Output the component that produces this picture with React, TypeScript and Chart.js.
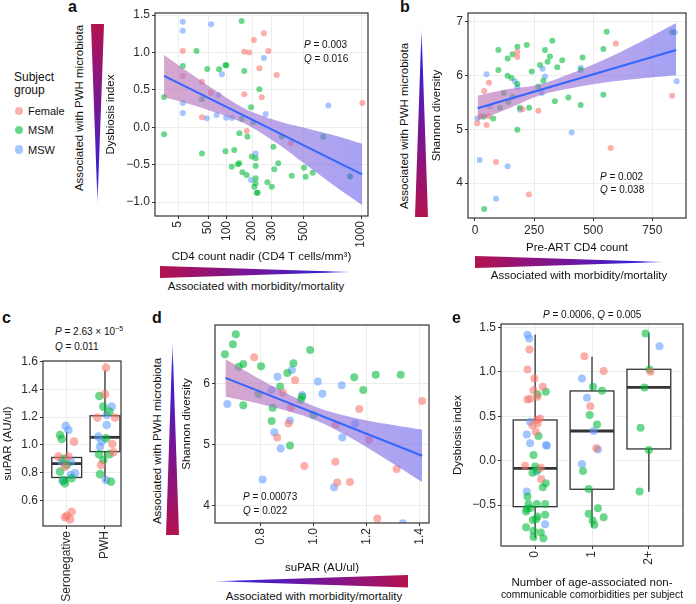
import React, { useEffect, useRef } from 'react';
import { Chart, registerables } from 'chart.js';

Chart.register(...registerables);

const FONT = '"Liberation Sans", Arial, Helvetica, sans-serif';
const COL_FEMALE = 'rgba(248,118,109,0.58)';
const COL_MSM = 'rgba(0,186,56,0.58)';
const COL_MSW = 'rgba(97,156,255,0.58)';
const FIT_COLOR = '#3366FF';
const GRID_COLOR = '#EBEBEB';
const TICK_COLOR = '#2b2b2b';

// ---------------- Panel a: CD4 nadir vs dysbiosis index ----------------
const A_X_TICKS = [5, 50, 100, 200, 300, 500, 1000];
const A_X_LABELS = ['5', '50', '100', '200', '300', '500', '1000'];
const A_Y_TICKS = [-1, -0.5, 0, 0.5, 1, 1.5];
const A_Y_LABELS = ['\u22121.0', '\u22120.5', '0.0', '0.5', '1.0', '1.5'];
const A_FEMALE_CD4 = [9, 9, 37, 57, 37, 257, 208, 166, 187, 280, 234, 327, 166, 246, 1013, 176, 415];
const A_FEMALE_DYS = [1.02, 0.685, 0.608, 0.461, 0.132, 1.255, 1.166, 1.01, 1.0, 1.02, 0.787, 0.698, 0.44, 0.4, 0.325, -0.05, -0.216];
const A_MSM_CD4 = [0, 0, 9, 27, 48, 37, 78, 97, 100, 37, 97, 118, 140, 127, 146, 155, 166, 234, 195, 155, 205, 179, 357, 654, 308, 146, 216, 336, 313, 420, 505, 517, 569, 158, 176, 216, 198, 216, 216, 275, 299, 210, 221, 226, 891];
const A_MSM_DYS = [0.405, -0.095, 0.82, 1.02, 0.778, 0.373, 0.775, 0.83, 0.83, -0.35, -0.32, -0.528, -0.496, -0.305, -0.082, 1.42, 0.75, 0.507, 0.266, 0.11, 0.065, -0.127, -0.127, -0.127, -0.26, -0.483, -0.519, -0.483, -0.563, -0.648, -0.541, -0.661, -0.608, -0.603, -0.639, -0.416, -0.39, -0.683, -0.75, -0.737, -0.795, -0.795, -0.876, -0.876, -0.66];
const A_MSW_CD4 = [9, 9, 57, 9, 9, 76, 47, 99, 71, 86, 257, 695, 266, 118, 216, 195, 891];
const A_MSW_DYS = [1.41, 1.29, 1.375, 0.325, 0.19, 0.43, 0.119, 0.125, 0.163, 0.707, 0.926, 0.29, 0.176, 0.124, -0.35, -0.706, -0.66];
const A_FIT_CD4 = [0, 1011];
const A_FIT_DYS = [0.685, -0.63];
const A_BAND_CD4 = [0, 16, 64, 169, 324, 529, 784, 1011];
const A_BAND_LO = [0.405, 0.31, 0.204, 0.047, -0.209, -0.516, -0.823, -1.04];
const A_BAND_HI = [0.965, 0.73, 0.504, 0.247, 0.091, -0.016, -0.123, -0.22];

// ---------------- Panel b: pre-ART CD4 vs Shannon ----------------
const B_X_TICKS = [0, 250, 500, 750];
const B_X_LABELS = ['0', '250', '500', '750'];
const B_Y_TICKS = [4, 5, 6, 7];
const B_Y_LABELS = ['4', '5', '6', '7'];
const B_FEMALE_CD4 = [10, 24, 49, 59, 39, 59, 179, 179, 201, 268, 596, 574, 834, 89, 228];
const B_FEMALE_SHAN = [5.11, 5.24, 5.08, 5.24, 5.71, 5.86, 6.43, 6.34, 5.37, 5.34, 6.59, 4.65, 5.62, 4.39, 3.79];
const B_MSM_CD4 = [37, 77, 99, 99, 138, 159, 179, 219, 327, 296, 307, 317, 275, 240, 138, 155, 179, 122, 141, 159, 106, 190, 229, 268, 289, 338, 348, 369, 395, 447, 447, 455, 543, 557, 543, 834, 39, 179];
const B_MSM_SHAN = [5.23, 5.2, 6.1, 6.47, 6.31, 6.39, 6.53, 6.56, 6.64, 6.47, 6.25, 6.35, 6.19, 6.07, 5.99, 5.95, 5.84, 5.67, 5.5, 5.6, 5.4, 5.4, 5.4, 5.79, 5.9, 5.52, 6.15, 6.28, 5.59, 5.45, 6.1, 6.33, 6.49, 6.81, 5.64, 6.8, 3.52, 4.99];
const B_MSW_CD4 = [10, 49, 169, 179, 63, 190, 286, 296, 282, 447, 409, 853, 20, 138, 89, 845];
const B_MSW_SHAN = [5.2, 6.02, 5.89, 5.78, 5.42, 5.36, 6.12, 5.98, 5.67, 6.14, 4.94, 5.89, 4.43, 4.31, 3.71, 6.8];
const B_FIT_CD4 = [11, 851];
const B_FIT_SHAN = [5.39, 6.47];
const B_BAND_CD4 = [11, 134, 275, 416, 557, 700, 851];
const B_BAND_LO = [5.16, 5.37, 5.63, 5.77, 5.87, 5.94, 6.0];
const B_BAND_HI = [5.62, 5.74, 5.83, 6.05, 6.31, 6.62, 6.97];

// ---------------- Panel c: suPAR by group ----------------
const C_CATEGORIES = ['Seronegative', 'PWH'];
const C_Y_TICKS = [0.6, 0.8, 1.0, 1.2, 1.4, 1.6];
const C_Y_LABELS = ['0.6', '0.8', '1.0', '1.2', '1.4', '1.6'];
const C_FEMALE_X = [0.19, -0.218, 0.044, -0.044, 0, 0.13, 0.087, -0.044, 1.026, 1.0, 0.8, 1.261, 1.191, 1.217, 0.896];
const C_FEMALE_Y = [1.024, 0.916, 0.916, 0.844, 0.49, 0.52, 0.465, 0.48, 1.556, 1.365, 1.197, 1.197, 1.007, 0.947, 0.856];
const C_MSM_X = [-0.174, -0.131, -0.087, 0, -0.174, 0.13, -0.087, -0.044, 0.852, 0.956, 1.113, 1.026, 0.843, 1.113, 0.956, 0.87, 1.156];
const C_MSM_Y = [1.072, 1.043, 0.9, 0.856, 0.808, 0.76, 0.748, 0.724, 1.352, 1.276, 1.24, 1.048, 0.933, 0.933, 0.892, 0.79, 0.736];
const C_MSW_X = [-0.026, 0.044, -0.131, 0.113, 0.218, 0.104, -0.105, 1.174, 1.044, 1.044, 0.826, 0.913, 0.87, 1.026];
const C_MSW_Y = [1.137, 1.108, 0.88, 0.88, 0.796, 0.784, 0.74, 1.276, 1.216, 1.144, 1.06, 1.024, 0.988, 0.748];
const C_BOX_LO = [0.724, 0.736];
const C_BOX_Q1 = [0.766, 0.952];
const C_BOX_MED = [0.866, 1.055];
const C_BOX_Q3 = [0.91, 1.21];
const C_BOX_HI = [1.096, 1.54];

// ---------------- Panel d: suPAR vs Shannon ----------------
const D_X_TICKS = [0.8, 1.0, 1.2, 1.4];
const D_X_LABELS = ['0.8', '1.0', '1.2', '1.4'];
const D_Y_TICKS = [4, 5, 6];
const D_Y_LABELS = ['4', '5', '6'];
const D_FEMALE_SUPAR = [0.776, 0.93, 0.884, 0.914, 0.905, 0.863, 1.172, 1.083, 1.209, 1.409, 0.965, 1.082, 1.089, 1.137, 1.313, 1.24];
const D_FEMALE_SHAN = [6.44, 6.06, 5.86, 5.61, 5.35, 5.12, 5.59, 5.33, 5.08, 5.72, 4.65, 4.72, 4.38, 4.39, 4.6, 3.79];
const D_MSM_SUPAR = [0.666, 0.707, 0.696, 0.718, 0.735, 0.802, 0.735, 0.792, 0.987, 0.924, 0.901, 0.874, 0.957, 0.952, 0.846, 0.999, 0.842, 0.911, 1.153, 1.187, 1.234, 1.328];
const D_MSM_SHAN = [6.489, 6.817, 6.653, 6.285, 6.33, 6.29, 5.65, 5.836, 6.56, 6.34, 6.18, 5.96, 5.79, 5.74, 5.61, 5.49, 5.39, 4.99, 6.11, 5.9, 6.15, 6.15];
const D_MSW_SUPAR = [0.675, 0.918, 0.864, 1.016, 0.842, 1.033, 1.106, 0.957, 0.911, 0.852, 0.876, 1.156, 1.108, 0.808, 1.077, 1.336];
const D_MSW_SHAN = [5.67, 6.23, 6.12, 6.04, 5.9, 5.84, 5.98, 5.82, 5.4, 5.205, 4.94, 5.35, 5.12, 4.43, 4.3, 3.71];
const D_FIT_SUPAR = [0.668, 1.409];
const D_FIT_SHAN = [6.1, 4.82];
const D_BAND_SUPAR = [0.668, 0.8, 0.95, 1.05, 1.2, 1.409];
const D_BAND_LO = [5.79, 5.672, 5.493, 5.32, 4.961, 4.39];
const D_BAND_HI = [6.41, 6.072, 5.733, 5.56, 5.401, 5.25];

// ---------------- Panel e: comorbidities vs dysbiosis ----------------
const E_CATEGORIES = ['0', '1', '2+'];
const E_Y_TICKS = [-0.5, 0, 0.5, 1, 1.5];
const E_Y_LABELS = ['\u22120.5', '0.0', '0.5', '1.0', '1.5'];
const E_FEMALE_X = [-0.1, -0.135, -0.012, 0.135, -0.029, 0.041, -0.135, -0.088, 0.088, 0.029, -0.047, 0.041, 0.012, -0.176, 0.1, 0.105, 0.865, 1.205, 0.971, 1.076, 2.029];
const E_FEMALE_Y = [1.251, 1.026, 0.925, 0.831, 0.794, 0.719, 0.689, 0.697, 0.476, 0.457, 0.4, 0.419, 0.326, -0.056, -0.079, -0.206, 1.176, 1.011, 0.614, 0.139, 1.0];
const E_MSM_X = [0.187, 0.041, 0.059, -0.029, 0, -0.047, 0.047, 0.187, 0.135, -0.135, -0.117, 0.029, 0.176, -0.146, -0.158, -0.088, 0.176, 0.041, -0.041, 0.018, -0.158, -0.029, 0.1, -0.029, 0.146, 1.018, 1.176, 0.959, 1.088, 0.842, 0.941, 1.105, 0.941, 1.205, 1.012, 1.041, 1.941, 2.012, 1.924, 1.854, 2.0, 1.836];
const E_MSM_Y = [0.775, 0.749, 0.277, 0.064, -0.067, -0.135, -0.105, -0.255, -0.3, -0.404, -0.487, -0.487, -0.487, -0.543, -0.573, -0.536, -0.61, -0.629, -0.667, -0.659, -0.749, -0.79, -0.809, -0.861, -0.873, 0.831, 0.787, 0.513, 0.408, -0.116, -0.318, -0.536, -0.599, -0.637, -0.674, -0.723, 1.431, 1.026, 0.824, 0.371, 0.12, -0.348];
const E_MSW_X = [-0.135, -0.105, -0.088, -0.146, -0.088, 0.193, 0.205, 0.018, -0.146, 0.176, 0.824, 0.912, 1.029, 1.105, 0.824, 2.187];
const E_MSW_Y = [1.419, 1.375, 0.438, 0.296, 0.195, 0.176, 0.169, -0.124, -0.348, -0.715, 0.925, 0.708, 0.333, 0.127, -0.037, 1.288];
const E_BOX_LO = [-0.874, -0.75, -0.35];
const E_BOX_Q1 = [-0.518, -0.322, 0.132];
const E_BOX_MED = [-0.086, 0.334, 0.826];
const E_BOX_Q3 = [0.458, 0.785, 1.029];
const E_BOX_HI = [1.419, 1.171, 1.44];

// ---------------- helpers ----------------
const sqrtT = (v: number) => Math.sqrt(v);
const ident = (v: number) => v;

const framePlugin = {
  id: 'frame',
  afterDatasetsDraw(chart: any) {
    const { ctx, chartArea } = chart;
    ctx.save();
    ctx.strokeStyle = '#333333';
    ctx.lineWidth = 1.2;
    ctx.strokeRect(chartArea.left, chartArea.top, chartArea.right - chartArea.left, chartArea.bottom - chartArea.top);
    ctx.restore();
  },
};

function boxPlugin(lo: number[], q1: number[], med: number[], q3: number[], hi: number[], half: number) {
  return {
    id: 'boxplot',
    beforeDatasetsDraw(chart: any) {
      const { ctx } = chart;
      const xs = chart.scales.x;
      const ys = chart.scales.y;
      ctx.save();
      ctx.strokeStyle = '#333333';
      lo.forEach((_, i) => {
        const cx = xs.getPixelForValue(i);
        const l = xs.getPixelForValue(i - half);
        const r = xs.getPixelForValue(i + half);
        const pLo = ys.getPixelForValue(lo[i]);
        const pQ1 = ys.getPixelForValue(q1[i]);
        const pMed = ys.getPixelForValue(med[i]);
        const pQ3 = ys.getPixelForValue(q3[i]);
        const pHi = ys.getPixelForValue(hi[i]);
        ctx.lineWidth = 1.3;
        ctx.beginPath();
        ctx.moveTo(cx, pLo);
        ctx.lineTo(cx, pQ1);
        ctx.moveTo(cx, pQ3);
        ctx.lineTo(cx, pHi);
        ctx.stroke();
        ctx.fillStyle = '#ffffff';
        ctx.fillRect(l, pQ3, r - l, pQ1 - pQ3);
        ctx.strokeRect(l, pQ3, r - l, pQ1 - pQ3);
        ctx.lineWidth = 2.8;
        ctx.beginPath();
        ctx.moveTo(l, pMed);
        ctx.lineTo(r, pMed);
        ctx.stroke();
      });
      ctx.restore();
    },
  };
}

function axis(o: {
  horizontal: boolean; min: number; max: number; ticks: number[]; labels: string[]; size: number;
  rot?: number; title?: string | string[]; titleLH?: number;
}) {
  return {
    type: 'linear',
    position: o.horizontal ? 'bottom' : 'left',
    min: o.min,
    max: o.max,
    afterBuildTicks: (s: any) => {
      s.ticks = o.ticks.map((v) => ({ value: v }));
    },
    afterFit: (s: any) => {
      if (o.horizontal) s.height = o.size;
      else s.width = o.size;
      s.paddingLeft = 0;
      s.paddingRight = 0;
      s.paddingTop = 0;
      s.paddingBottom = 0;
    },
    ticks: {
      autoSkip: false,
      maxRotation: o.rot ?? 0,
      minRotation: o.rot ?? 0,
      padding: 2,
      color: TICK_COLOR,
      font: { family: FONT, size: 12 },
      callback: (_v: any, i: number) => o.labels[i],
    },
    grid: { color: GRID_COLOR, lineWidth: 0.9, drawTicks: true, tickLength: 3, tickColor: '#333333', tickWidth: 1 },
    border: { display: false },
    title: {
      display: !!o.title,
      text: o.title,
      color: '#111111',
      font: { family: FONT, size: 11.5, lineHeight: o.titleLH ?? 1.2 },
      padding: 0,
    },
  };
}

function points(xs: number[], ys: number[], color: string, r: number, tx: (v: number) => number = ident) {
  return {
    type: 'scatter',
    data: xs.map((x, i) => ({ x: tx(x), y: ys[i] })),
    pointRadius: r,
    pointHoverRadius: r,
    backgroundColor: color,
    pointBackgroundColor: color,
    borderColor: 'rgba(0,0,0,0)',
    pointBorderWidth: 0,
    showLine: false,
    order: 3,
  };
}

function bandSets(xs: number[], lo: number[], hi: number[], tx: (v: number) => number = ident) {
  const tX = xs.map(tx);
  const grad = (c: any) => {
    const chart = c.chart;
    if (!chart.chartArea) return 'rgba(150,130,220,0.62)';
    const sx = chart.scales.x;
    const x0 = sx.getPixelForValue(tX[0]);
    const x1 = sx.getPixelForValue(tX[tX.length - 1]);
    const g = chart.ctx.createLinearGradient(x0, 0, x1, 0);
    g.addColorStop(0, 'rgba(190,112,175,0.62)');
    g.addColorStop(0.5, 'rgba(150,110,215,0.62)');
    g.addColorStop(1, 'rgba(110,105,238,0.62)');
    return g;
  };
  return [
    {
      type: 'line',
      data: tX.map((x, i) => ({ x, y: hi[i] })),
      fill: '+1',
      backgroundColor: grad,
      borderColor: 'rgba(0,0,0,0)',
      borderWidth: 0,
      pointRadius: 0,
      tension: 0.3,
      order: 2,
    },
    {
      type: 'line',
      data: tX.map((x, i) => ({ x, y: lo[i] })),
      fill: false,
      borderColor: 'rgba(0,0,0,0)',
      borderWidth: 0,
      pointRadius: 0,
      tension: 0.3,
      order: 2,
    },
  ];
}

function fitLine(xs: number[], ys: number[], tx: (v: number) => number = ident) {
  return {
    type: 'line',
    data: xs.map((x, i) => ({ x: tx(x), y: ys[i] })),
    borderColor: FIT_COLOR,
    borderWidth: 2,
    pointRadius: 0,
    fill: false,
    order: 1,
  };
}

function config(datasets: any[], x: any, y: any, pad: any, extra: any[] = []) {
  return {
    type: 'scatter',
    data: { datasets },
    options: {
      animation: false,
      responsive: false,
      maintainAspectRatio: false,
      events: [],
      layout: { padding: pad },
      plugins: { legend: { display: false }, tooltip: { enabled: false } },
      scales: { x, y },
    },
    plugins: [framePlugin, ...extra],
  };
}

type BoxT = { left: number; top: number; width: number; height: number };

function ChartBox({ box, build }: { box: BoxT; build: () => any }) {
  const ref = useRef<HTMLCanvasElement | null>(null);
  useEffect(() => {
    if (!ref.current) return;
    const chart = new Chart(ref.current, build());
    return () => chart.destroy();
  }, []);
  return (
    <div style={{ position: 'absolute', left: box.left, top: box.top, width: box.width, height: box.height }}>
      <canvas ref={ref} width={box.width} height={box.height} style={{ display: 'block', width: box.width, height: box.height }} />
    </div>
  );
}

function Txt(p: { x: number; y: number; children: any; size?: number; anchor?: 'start' | 'middle' | 'end'; weight?: number; rotate?: boolean; color?: string }) {
  const size = p.size ?? 11.5;
  const tx = p.anchor === 'middle' ? '-50%' : p.anchor === 'end' ? '-100%' : '0';
  const style: any = {
    position: 'absolute',
    left: p.x,
    top: p.y,
    fontFamily: FONT,
    fontSize: size,
    fontWeight: p.weight ?? 400,
    lineHeight: 1.15,
    whiteSpace: 'nowrap',
    color: p.color ?? '#111111',
    transform: p.rotate ? 'translate(-50%, -50%) rotate(-90deg)' : `translate(${tx}, -50%)`,
  };
  return <div style={style}>{p.children}</div>;
}

const CRIMSON = '#b3124f';
const PURPLE = '#72169c';
const BLUE = '#3422dc';

function Wedge(p: { left: number; top: number; width: number; height: number; dir: 'down' | 'up' | 'right' | 'left' }) {
  let clip = '';
  let bg = '';
  if (p.dir === 'down') {
    clip = 'polygon(0 0, 100% 0, 50% 100%)';
    bg = `linear-gradient(to bottom, ${CRIMSON}, ${PURPLE} 50%, ${BLUE} 88%, #8f8ff0)`;
  } else if (p.dir === 'up') {
    clip = 'polygon(50% 0, 100% 100%, 0 100%)';
    bg = `linear-gradient(to top, ${CRIMSON}, ${PURPLE} 50%, ${BLUE} 88%, #8f8ff0)`;
  } else if (p.dir === 'right') {
    clip = 'polygon(0 0, 100% 50%, 0 100%)';
    bg = `linear-gradient(to right, ${CRIMSON}, ${PURPLE} 50%, ${BLUE} 88%, #8f8ff0)`;
  } else {
    clip = 'polygon(0 50%, 100% 0, 100% 100%)';
    bg = `linear-gradient(to left, ${CRIMSON}, ${PURPLE} 50%, ${BLUE} 88%, #8f8ff0)`;
  }
  return <div style={{ position: 'absolute', left: p.left, top: p.top, width: p.width, height: p.height, background: bg, clipPath: clip }} />;
}

function Dot({ x, y, color }: { x: number; y: number; color: string }) {
  return <div style={{ position: 'absolute', left: x - 4.2, top: y - 4.2, width: 8.4, height: 8.4, borderRadius: '50%', background: color }} />;
}

// ---------------- chart builders ----------------
const buildA = () =>
  config(
    [
      fitLine(A_FIT_CD4, A_FIT_DYS, sqrtT),
      ...bandSets(A_BAND_CD4, A_BAND_LO, A_BAND_HI, sqrtT),
      points(A_FEMALE_CD4, A_FEMALE_DYS, COL_FEMALE, 3, sqrtT),
      points(A_MSM_CD4, A_MSM_DYS, COL_MSM, 3, sqrtT),
      points(A_MSW_CD4, A_MSW_DYS, COL_MSW, 3, sqrtT),
    ],
    axis({ horizontal: true, min: -1.461, max: 32.74, ticks: A_X_TICKS.map(sqrtT), labels: A_X_LABELS, size: 48, rot: 90, title: 'CD4 count nadir (CD4 T cells/mm\u00b3)' }),
    axis({ horizontal: false, min: -1.187, max: 1.527, ticks: A_Y_TICKS, labels: A_Y_LABELS, size: 51, title: 'Dysbiosis index' }),
    { left: 0, top: 6, right: 8, bottom: 0 }
  );

const buildB = () =>
  config(
    [
      fitLine(B_FIT_CD4, B_FIT_SHAN),
      ...bandSets(B_BAND_CD4, B_BAND_LO, B_BAND_HI),
      points(B_FEMALE_CD4, B_FEMALE_SHAN, COL_FEMALE, 3),
      points(B_MSM_CD4, B_MSM_SHAN, COL_MSM, 3),
      points(B_MSW_CD4, B_MSW_SHAN, COL_MSW, 3),
    ],
    axis({ horizontal: true, min: -29.6, max: 892.6, ticks: B_X_TICKS, labels: B_X_LABELS, size: 37, rot: 0, title: 'Pre-ART CD4 count' }),
    axis({ horizontal: false, min: 3.352, max: 7.156, ticks: B_Y_TICKS, labels: B_Y_LABELS, size: 38, title: 'Shannon diversity' }),
    { left: 0, top: 6, right: 6, bottom: 0 }
  );

const buildC = () =>
  config(
    [
      points(C_FEMALE_X, C_FEMALE_Y, COL_FEMALE, 4.3),
      points(C_MSM_X, C_MSM_Y, COL_MSM, 4.3),
      points(C_MSW_X, C_MSW_Y, COL_MSW, 4.3),
    ],
    axis({ horizontal: true, min: -0.619, max: 1.418, ticks: [0, 1], labels: C_CATEGORIES, size: 78, rot: 90 }),
    axis({ horizontal: false, min: 0.417, max: 1.604, ticks: C_Y_TICKS, labels: C_Y_LABELS, size: 42, title: 'suPAR (AU/ul)' }),
    { left: 0, top: 6, right: 6, bottom: 0 },
    [boxPlugin(C_BOX_LO, C_BOX_Q1, C_BOX_MED, C_BOX_Q3, C_BOX_HI, 0.39)]
  );

const buildD = () =>
  config(
    [
      fitLine(D_FIT_SUPAR, D_FIT_SHAN),
      ...bandSets(D_BAND_SUPAR, D_BAND_LO, D_BAND_HI),
      points(D_FEMALE_SUPAR, D_FEMALE_SHAN, COL_FEMALE, 4),
      points(D_MSM_SUPAR, D_MSM_SHAN, COL_MSM, 4),
      points(D_MSW_SUPAR, D_MSW_SHAN, COL_MSW, 4),
    ],
    axis({ horizontal: true, min: 0.6286, max: 1.4347, ticks: D_X_TICKS, labels: D_X_LABELS, size: 52, rot: 90, title: 'suPAR (AU/ul)' }),
    axis({ horizontal: false, min: 3.714, max: 6.97, ticks: D_Y_TICKS, labels: D_Y_LABELS, size: 35, title: 'Shannon diversity' }),
    { left: 0, top: 6, right: 6, bottom: 0 }
  );

const buildE = () =>
  config(
    [
      points(E_FEMALE_X, E_FEMALE_Y, COL_FEMALE, 4),
      points(E_MSM_X, E_MSM_Y, COL_MSM, 4),
      points(E_MSW_X, E_MSW_Y, COL_MSW, 4),
    ],
    axis({
      horizontal: true, min: -0.6, max: 2.6, ticks: [0, 1, 2], labels: E_CATEGORIES, size: 55, rot: 90,
      title: ['Number of age-associated non-', 'communicable comorbidities per subject'], titleLH: 1.06,
    }),
    axis({ horizontal: false, min: -0.961, max: 1.539, ticks: E_Y_TICKS, labels: E_Y_LABELS, size: 50, title: 'Dysbiosis index' }),
    { left: 0, top: 6, right: 10, bottom: 0 },
    [boxPlugin(E_BOX_LO, E_BOX_Q1, E_BOX_MED, E_BOX_Q3, E_BOX_HI, 0.385)]
  );

export default function App() {
  return (
    <div style={{ position: 'absolute', left: 0, top: 0, width: 696, height: 604, background: '#ffffff', overflow: 'hidden' }}>
      {/* charts */}
      <ChartBox box={{ left: 104, top: 7, width: 272, height: 257 }} build={buildA} />
      <ChartBox box={{ left: 430, top: 7, width: 262, height: 248 }} build={buildB} />
      <ChartBox box={{ left: 1, top: 355, width: 126, height: 249 }} build={buildC} />
      <ChartBox box={{ left: 180, top: 319, width: 255, height: 256 }} build={buildD} />
      <ChartBox box={{ left: 451, top: 318, width: 242, height: 283 }} build={buildE} />

      {/* panel letters */}
      <Txt x={68} y={7} size={16} weight={700}>a</Txt>
      <Txt x={400} y={7} size={16} weight={700}>b</Txt>
      <Txt x={2} y={318} size={16} weight={700}>c</Txt>
      <Txt x={152} y={318} size={16} weight={700}>d</Txt>
      <Txt x={452} y={318} size={16} weight={700}>e</Txt>

      {/* legend */}
      <Txt x={14} y={78} size={12}>Subject</Txt>
      <Txt x={14} y={91} size={12}>group</Txt>
      <Dot x={19} y={111} color={COL_FEMALE} />
      <Txt x={28} y={111} size={11}>Female</Txt>
      <Dot x={19} y={130} color={COL_MSM} />
      <Txt x={28} y={130} size={11}>MSM</Txt>
      <Dot x={19} y={149.5} color={COL_MSW} />
      <Txt x={28} y={149.5} size={11}>MSW</Txt>

      {/* panel a decorations */}
      <Wedge left={91} top={24} width={13} height={179} dir="down" />
      <Txt x={80} y={107.5} rotate>Associated with PWH microbiota</Txt>
      <Wedge left={160} top={266} width={191} height={12} dir="right" />
      <Txt x={256} y={286.5} anchor="middle">Associated with morbidity/mortality</Txt>
      <Txt x={304} y={45} size={10}><i>P</i> = 0.003</Txt>
      <Txt x={304} y={58.5} size={10}><i>Q</i> = 0.016</Txt>

      {/* panel b decorations */}
      <Wedge left={415} top={29} width={13} height={188} dir="up" />
      <Txt x={405} y={126} rotate>Associated with PWH microbiota</Txt>
      <Wedge left={475} top={256} width={189} height={12} dir="right" />
      <Txt x={579} y={276} anchor="middle">Associated with morbidity/mortality</Txt>
      <Txt x={600} y={176.7} size={10}><i>P</i> = 0.002</Txt>
      <Txt x={600} y={190} size={10}><i>Q</i> = 0.038</Txt>

      {/* panel c annotation */}
      <Txt x={55} y={332} size={10}>
        <i>P</i> = 2.63 × 10<span style={{ fontSize: 7, position: 'relative', top: -4 }}>{'\u22125'}</span>
      </Txt>
      <Txt x={55} y={347} size={10}><i>Q</i> = 0.011</Txt>

      {/* panel d decorations */}
      <Wedge left={166} top={343} width={13} height={192} dir="up" />
      <Txt x={158} y={441} rotate>Associated with PWH microbiota</Txt>
      <Wedge left={215} top={575} width={193} height={12.5} dir="left" />
      <Txt x={314} y={596.5} anchor="middle">Associated with morbidity/mortality</Txt>
      <Txt x={243} y={496.7} size={10}><i>P</i> = 0.00073</Txt>
      <Txt x={243} y={510.7} size={10}><i>Q</i> = 0.022</Txt>

      {/* panel e annotation */}
      <Txt x={543} y={315} size={10}><i>P</i> = 0.0006, <i>Q</i> = 0.005</Txt>
    </div>
  );
}
